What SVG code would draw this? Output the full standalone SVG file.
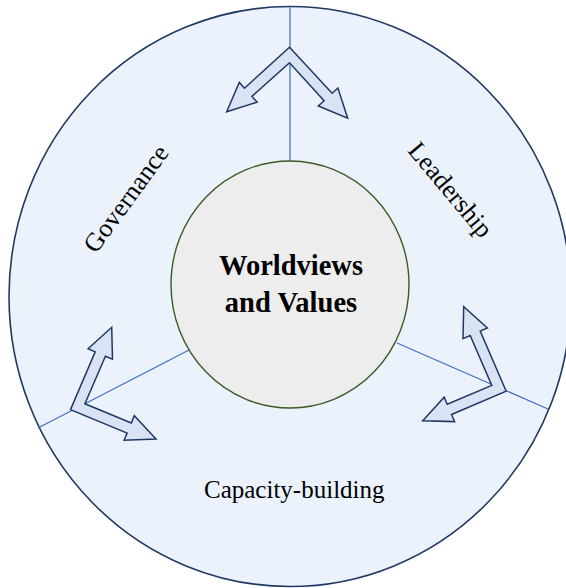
<svg xmlns="http://www.w3.org/2000/svg" width="566" height="588" viewBox="0 0 566 588">
  <style>
    .ring { fill: #EBF2FB; stroke: #1F3864; stroke-width: 1.6; }
    .core { fill: #EDEDED; stroke: #3B5A26; stroke-width: 1.4; }
    .spoke { stroke: #4472C4; stroke-width: 1.3; fill: none; }
    .bent { fill: #DAE3F3; stroke: #1F3864; stroke-width: 1.5; stroke-linejoin: miter; }
    .label { font-family: "Liberation Serif", "Times New Roman", serif; font-size: 25px; fill: #000; }
    .tilted { font-size: 26px; text-anchor: middle; }
    .title { font-family: "Liberation Serif", "Times New Roman", serif; font-size: 28.5px; font-weight: bold; fill: #000; text-anchor: middle; }
  </style>
  <rect width="566" height="588" fill="#FFFFFF"/>

  <g id="outer-ring">
    <ellipse class="ring" cx="290" cy="296.5" rx="281" ry="290"/>
  </g>

  <g id="spokes">
    <line class="spoke" x1="290" y1="6.5" x2="290" y2="161"/>
    <line class="spoke" x1="38" y1="428" x2="189" y2="350"/>
    <line class="spoke" x1="397" y1="343" x2="548" y2="409"/>
  </g>

  <g id="centre">
    <ellipse class="core" cx="290" cy="284.5" rx="119" ry="123.5"/>
    <text class="title" x="291" y="275">Worldviews</text>
    <text class="title" x="291" y="311.5">and Values</text>
  </g>

  <g id="arrow-top">
    <polygon class="bent" points="289.5,47.2 332.1,93.3 337.9,88.0 347.7,118.3 318.3,106.0 324.1,100.7 289.5,62.8 251.9,96.4 257.1,102.2 226.7,111.7 239.3,82.4 244.5,88.2"/>
  </g>

  <g id="arrow-left">
    <polygon class="bent" points="70.5,409.6 95.2,351.8 88.1,348.8 111.7,327.3 112.5,359.2 105.4,356.2 84.9,403.8 131.3,422.9 134.3,415.7 156,439 124.1,440.3 127.1,433.1"/>
  </g>

  <g id="arrow-right">
    <polygon class="bent" points="506.2,391.2 480.2,331.1 487.4,328.0 463.7,306.7 463.0,338.6 470.2,335.5 491.8,385.4 447.2,404.3 444.2,397.2 422.7,420.7 454.6,421.6 451.6,414.5"/>
  </g>

  <g id="governance">
    <text class="label tilted" transform="translate(126.5,199) rotate(-54)" y="8">Governance</text>
  </g>

  <g id="leadership">
    <text class="label tilted" transform="translate(450,190) rotate(50)" y="8">Leadership</text>
  </g>

  <g id="capacity-building">
    <text class="label" x="204" y="498">Capacity-building</text>
  </g>
</svg>
